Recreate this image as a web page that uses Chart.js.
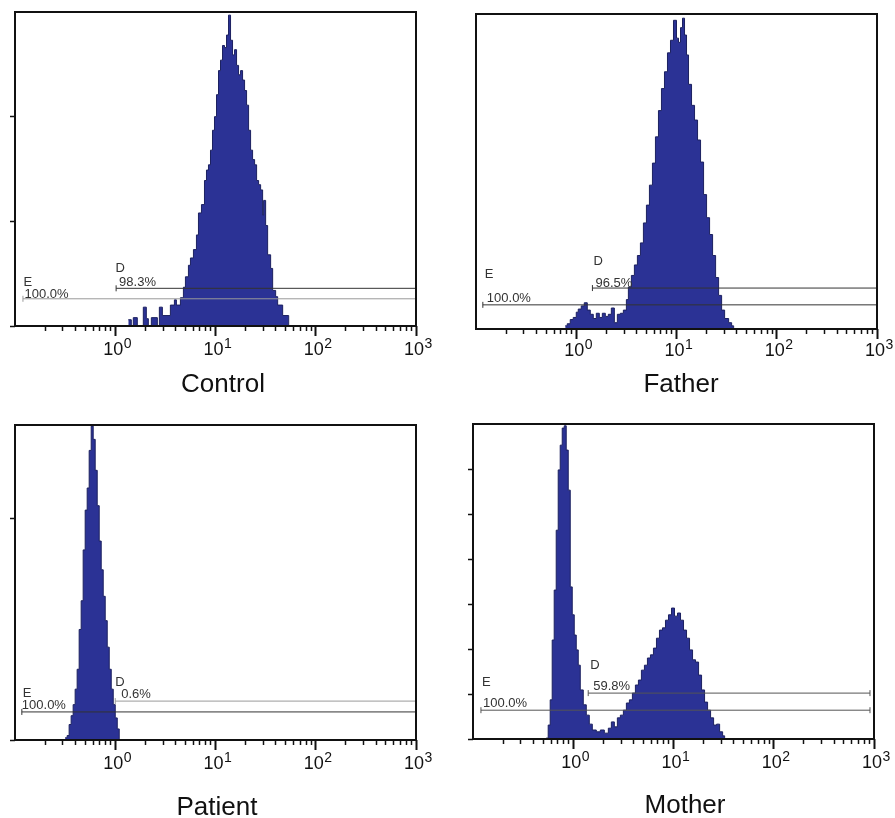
<!DOCTYPE html>
<html>
<head>
<meta charset="utf-8">
<script src="https://cdn.jsdelivr.net/npm/chart.js@4.4.1/dist/chart.umd.min.js"></script>
<style>
html,body{margin:0;padding:0;background:#fff;}
#wrap{position:relative;width:895px;height:818px;overflow:hidden;background:#fff;}
.panel{position:absolute;}
.panel canvas{display:block;}
</style>
</head>
<body>
<div id="wrap">
  <div class="panel" style="left:0px;top:0px;"><canvas id="c0" width="447" height="405"></canvas></div>
  <div class="panel" style="left:447px;top:0px;"><canvas id="c1" width="448" height="405"></canvas></div>
  <div class="panel" style="left:0px;top:409px;"><canvas id="c2" width="447" height="409"></canvas></div>
  <div class="panel" style="left:447px;top:409px;"><canvas id="c3" width="448" height="409"></canvas></div>
</div>
<script>
// ---------------- DATA ----------------
// x axis: fluorescence intensity (log scale 10^-1 .. 10^3)
const decadeTicks = [1, 10, 100, 1000];
const decadeExponents = ['0', '1', '2', '3'];
const minorTicks = [0.2,0.3,0.4,0.5,0.6,0.7,0.8,0.9, 2,3,4,5,6,7,8,9, 20,30,40,50,60,70,80,90, 200,300,400,500,600,700,800,900];

// histogram bins: log10 of fluorescence at the left edge of each bin, and counts
const controlLog10FL = [0.13,0.16,0.18,0.22,0.28,0.31,0.33,0.36,0.42,0.44,0.47,0.55,0.59,0.61,0.65,0.68,0.70,0.73,0.75,0.78,0.81,0.83,0.86,0.89,0.91,0.93,0.95,0.97,0.99,1.01,1.03,1.05,1.07,1.09,1.11,1.13,1.15,1.17,1.19,1.21,1.23,1.25,1.27,1.29,1.31,1.33,1.35,1.37,1.39,1.41,1.43,1.45,1.47,1.48,1.50,1.52,1.55,1.57,1.60,1.62,1.67,1.73];
const controlCounts  = [6,0,8,0,18,7,0,8,0,18,10,20,25,20,27,37,47,58,65,73,87,108,116,139,149,154,168,187,200,221,244,254,268,266,278,297,273,259,264,249,240,244,235,225,211,187,168,159,154,139,135,130,106,120,96,68,55,34,28,20,10,0];

const fatherLog10FL = [-0.11,-0.09,-0.06,-0.03,0.00,0.02,0.05,0.08,0.11,0.14,0.17,0.20,0.23,0.26,0.29,0.32,0.35,0.38,0.41,0.44,0.47,0.50,0.52,0.55,0.58,0.61,0.64,0.67,0.70,0.73,0.76,0.79,0.82,0.85,0.88,0.91,0.94,0.97,1.00,1.02,1.04,1.06,1.08,1.10,1.12,1.15,1.18,1.21,1.24,1.27,1.30,1.33,1.36,1.39,1.42,1.45,1.48,1.52,1.55,1.57];
const fatherCounts  = [3,5,9,11,16,19,22,25,18,14,10,15,11,15,12,14,20,6,14,15,18,28,40,51,61,70,82,101,118,137,158,183,208,229,245,263,275,294,277,273,287,296,280,261,233,213,199,180,159,128,106,90,70,49,32,18,10,6,3,0];

const patientLog10FL = [-0.50,-0.48,-0.46,-0.44,-0.42,-0.40,-0.38,-0.36,-0.34,-0.32,-0.30,-0.28,-0.26,-0.24,-0.22,-0.20,-0.18,-0.16,-0.14,-0.12,-0.10,-0.08,-0.06,-0.04,-0.02,0.00,0.02,0.04];
const patientCounts  = [1,2,7,11,16,23,32,50,63,86,104,114,131,142,136,122,106,90,77,65,54,42,32,23,16,10,5,0];

const motherLog10FL = [-0.27,-0.25,-0.23,-0.21,-0.19,-0.17,-0.15,-0.13,-0.11,-0.09,-0.07,-0.05,-0.03,-0.01,0.01,0.03,0.05,0.07,0.10,0.13,0.16,0.19,0.23,0.27,0.31,0.35,0.38,0.41,0.44,0.47,0.50,0.53,0.56,0.59,0.62,0.65,0.68,0.71,0.74,0.77,0.80,0.83,0.86,0.89,0.92,0.95,0.98,1.01,1.04,1.07,1.10,1.13,1.16,1.19,1.22,1.25,1.28,1.31,1.34,1.37,1.40,1.43,1.46,1.49,1.51];
const motherCounts  = [2,31,87,220,331,464,598,653,691,696,642,553,338,276,231,198,164,109,76,53,33,20,16,20,13,24,38,27,47,53,64,80,87,102,120,131,153,164,180,187,202,224,242,247,264,276,291,273,280,264,242,224,198,176,171,142,109,82,64,47,31,33,16,7,0];

// y axis tick values (unlabelled marks)
const controlYTicks = [0, 100, 200];
const fatherYTicks  = [];
const patientYTicks = [0, 100];
const motherYTicks  = [0, 100, 200, 300, 400, 500, 600];

// gates (marker E and D): start / end fluorescence, level, percentage
const gateNames = ['E', 'D'];
const controlGateStart = [0.12, 1.02];  const controlGateEnd = [1000, 1000]; const controlGateLevel = [26, 36];  const controlGatePct = ['100.0%', '98.3%'];
const fatherGateStart  = [0.117, 1.45]; const fatherGateEnd  = [1000, 1000]; const fatherGateLevel  = [23, 39];  const fatherGatePct  = ['100.0%', '96.5%'];
const patientGateStart = [0.117, 1.0];  const patientGateEnd = [1000, 1000]; const patientGateLevel = [12.7, 17.6]; const patientGatePct = ['100.0%', '0.6%'];
const motherGateStart  = [0.12, 1.41];  const motherGateEnd  = [912, 912];   const motherGateLevel  = [64, 102]; const motherGatePct  = ['100.0%', '59.8%'];

// ---------------- LAYOUT / STYLE ----------------
const FONT = '"Liberation Sans", Arial, Helvetica, sans-serif';
const FILL = '#2b3295';
const EDGE = '#1c2160';

const panels = [
  { id:'c0', name:'Control', w:447, h:405, area:{l:15,t:12,r:416,b:326}, yMax:300, yTicks:controlYTicks,
    logFL:controlLog10FL, counts:controlCounts, gStart:controlGateStart, gEnd:controlGateEnd, gLevel:controlGateLevel, gPct:controlGatePct,
    gColor:['#9a9a9a','#333'], lbl:[{ldx:0.5,ldy:-13,pdx:1.5,pdy:-1},{ldx:-0.5,ldy:-16,pdx:3,pdy:-2}],
    titleX:223, titleBase:392, tickBase:29 },
  { id:'c1', name:'Father', w:448, h:405, area:{l:29,t:14,r:430,b:329}, yMax:300, yTicks:fatherYTicks,
    logFL:fatherLog10FL, counts:fatherCounts, gStart:fatherGateStart, gEnd:fatherGateEnd, gLevel:fatherGateLevel, gPct:fatherGatePct,
    gColor:['#333','#333'], lbl:[{ldx:2,ldy:-27,pdx:4,pdy:-3},{ldx:1,ldy:-23,pdx:3,pdy:-1}],
    titleX:234, titleBase:392, tickBase:27 },
  { id:'c2', name:'Patient', w:447, h:409, area:{l:15,t:16,r:416,b:331}, yMax:142.5, yTicks:patientYTicks,
    logFL:patientLog10FL, counts:patientCounts, gStart:patientGateStart, gEnd:patientGateEnd, gLevel:patientGateLevel, gPct:patientGatePct,
    gColor:['#333','#9a9a9a'], lbl:[{ldx:1,ldy:-15,pdx:0,pdy:-3},{ldx:0,ldy:-15,pdx:6,pdy:-3}],
    titleX:217, titleBase:406, tickBase:29 },
  { id:'c3', name:'Mother', w:448, h:409, area:{l:26,t:15,r:427,b:330}, yMax:700, yTicks:motherYTicks,
    logFL:motherLog10FL, counts:motherCounts, gStart:motherGateStart, gEnd:motherGateEnd, gLevel:motherGateLevel, gPct:motherGatePct,
    gColor:['#555','#555'], lbl:[{ldx:1,ldy:-24,pdx:2,pdy:-3},{ldx:2,ldy:-24,pdx:5,pdy:-3}],
    titleX:238, titleBase:404, tickBase:29 }
];

const decor = {
  id: 'decor',
  afterDraw(chart, args, opts) {
    const p = opts.panel;
    const ctx = chart.ctx;
    const a = chart.chartArea;
    const xs = chart.scales.x, ys = chart.scales.y;
    ctx.save();
    // frame
    ctx.strokeStyle = '#111';
    ctx.lineWidth = 2;
    ctx.strokeRect(a.left, a.top, a.right - a.left, a.bottom - a.top);
    // decade tick labels 10^n
    ctx.fillStyle = '#111';
    ctx.textBaseline = 'alphabetic';
    ctx.textAlign = 'left';
    decadeTicks.forEach((v, i) => {
      const px = xs.getPixelForValue(v);
      ctx.font = '18px ' + FONT;
      const w1 = ctx.measureText('10').width;
      ctx.font = '14px ' + FONT;
      const w2 = ctx.measureText(decadeExponents[i]).width;
      const x0 = px + 2 - (w1 + w2) / 2;
      const base = a.bottom + p.tickBase;
      ctx.font = '18px ' + FONT;
      ctx.fillText('10', x0, base);
      ctx.font = '14px ' + FONT;
      ctx.fillText(decadeExponents[i], x0 + w1 + 0.5, base - 7);
    });
    // gate labels
    ctx.fillStyle = '#333';
    ctx.font = '13px ' + FONT;
    gateNames.forEach((g, i) => {
      const gx = xs.getPixelForValue(p.gStart[i]);
      const gy = ys.getPixelForValue(p.gLevel[i]);
      const L = p.lbl[i];
      ctx.fillText(g, gx + L.ldx, gy + L.ldy);
      ctx.fillText(p.gPct[i], gx + L.pdx, gy + L.pdy);
    });
    // sample title
    ctx.fillStyle = '#111';
    ctx.font = '26px ' + FONT;
    ctx.textAlign = 'center';
    ctx.fillText(p.name, p.titleX, p.titleBase);
    ctx.restore();
  }
};

panels.forEach(p => {
  const hist = p.logFL.map((e, i) => ({ x: Math.pow(10, e), y: p.counts[i] }));
  const gateSets = gateNames.map((g, i) => ({
    label: g,
    data: [{ x: p.gStart[i], y: p.gLevel[i] }, { x: p.gEnd[i], y: p.gLevel[i] }],
    borderColor: p.gColor[i],
    borderWidth: 1,
    pointStyle: 'line',
    rotation: 90,
    pointRadius: 3,
    pointBorderColor: p.gColor[i],
    pointBorderWidth: 1,
    fill: false,
    clip: false,
    order: 0
  }));
  const datasets = gateSets.concat([{
    label: p.name,
    data: hist,
    stepped: 'before',
    fill: 'origin',
    backgroundColor: FILL,
    borderColor: EDGE,
    borderWidth: 1,
    pointRadius: 0,
    order: 1
  }]);
  const yTicks = p.yTicks;
  new Chart(document.getElementById(p.id), {
    type: 'line',
    data: { datasets },
    options: {
      responsive: false,
      animation: false,
      events: [],
      layout: { padding: { left: 0, top: p.area.t, right: p.w - p.area.r, bottom: p.h - p.area.b } },
      plugins: { legend: { display: false }, tooltip: { enabled: false }, decor: { panel: p } },
      scales: {
        x: {
          type: 'logarithmic', position: 'bottom', min: 0.1, max: 1000,
          afterBuildTicks: s => { s.ticks = minorTicks.map(v => ({ value: v })); },
          afterFit: s => { s.height = 0; },
          ticks: { display: false },
          border: { display: false },
          grid: { display: true, drawOnChartArea: false, drawTicks: true, tickLength: 5, tickColor: '#111', tickWidth: 1.5 }
        },
        x2: {
          type: 'logarithmic', axis: 'x', position: 'bottom', min: 0.1, max: 1000,
          afterBuildTicks: s => { s.ticks = decadeTicks.map(v => ({ value: v })); },
          afterFit: s => { s.height = 0; },
          ticks: { display: false },
          border: { display: false },
          grid: { display: true, drawOnChartArea: false, drawTicks: true, tickLength: 10, tickColor: '#111', tickWidth: 2 }
        },
        y: {
          type: 'linear', position: 'left', min: 0, max: p.yMax,
          afterBuildTicks: s => { s.ticks = yTicks.map(v => ({ value: v })); },
          afterFit: s => { s.width = p.area.l; },
          ticks: { display: false },
          border: { display: false },
          grid: { display: yTicks.length > 0, drawOnChartArea: false, drawTicks: true, tickLength: 5, tickColor: '#111', tickWidth: 1.5 }
        }
      }
    },
    plugins: [decor]
  });
});
</script>
</body>
</html>
